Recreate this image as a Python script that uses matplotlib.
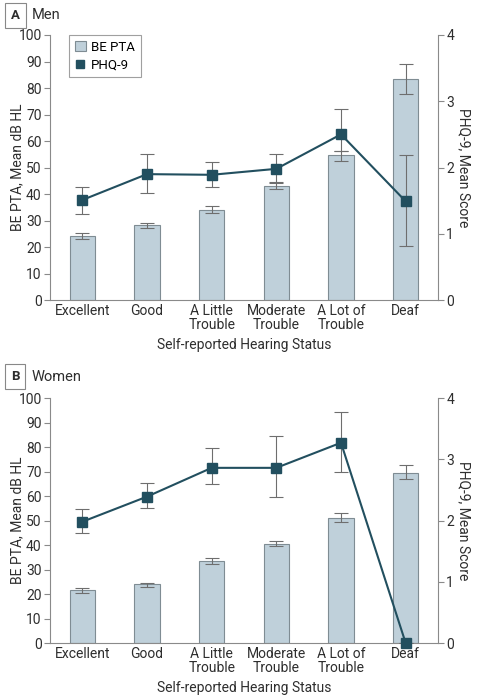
import matplotlib
matplotlib.use("Agg")
import matplotlib.pyplot as plt
from matplotlib.patches import Patch
from matplotlib.lines import Line2D
import numpy as np

plt.rcParams['font.family'] = ['Roboto', 'DejaVu Sans']

categories = ["Excellent", "Good", "A Little\nTrouble", "Moderate\nTrouble", "A Lot of\nTrouble", "Deaf"]

# Men
men_pta = [24.1, 28.2, 33.8, 42.9, 54.9, 83.3]
men_pta_lo = [22.9, 27.3, 32.9, 42.0, 52.5, 77.8]
men_pta_hi = [25.3, 29.0, 35.3, 44.4, 56.3, 88.9]
men_phq = [1.51, 1.90, 1.89, 1.98, 2.50, 1.49]
men_phq_lo = [1.30, 1.61, 1.70, 1.77, 2.25, 0.81]
men_phq_hi = [1.70, 2.20, 2.09, 2.20, 2.89, 2.19]

# Women
women_pta = [21.6, 23.9, 33.4, 40.3, 50.9, 69.6]
women_pta_lo = [20.3, 22.9, 32.2, 39.4, 49.2, 67.0]
women_pta_hi = [22.6, 24.7, 34.5, 41.5, 52.9, 72.8]
women_phq = [1.98, 2.39, 2.86, 2.86, 3.27, 0.0]
women_phq_lo = [1.79, 2.20, 2.60, 2.39, 2.79, 0.0]
women_phq_hi = [2.19, 2.61, 3.19, 3.38, 3.77, 0.0]

left_ticks = list(range(0, 101, 10))
right_ticks = [0, 1, 2, 3, 4]

BAR_FC = "#bfd0da"
BAR_EC = "#7f8c93"
LINE_C = "#224f5f"
ERR_C = "#6e6e6e"
AX_C = "#8a8a8a"
TXT_C = "#2e2e2e"
FS = 10

fig = plt.figure(figsize=(4.78, 7.0), dpi=100)


def panel(rect, pta, plo, phi, phq, qlo, qhi, letter, title, ytitle, legend):
    ax = fig.add_axes(rect)
    x = np.arange(len(categories))
    pta = np.array(pta); plo = np.array(plo); phi = np.array(phi)
    ax.bar(x, pta, width=0.39, color=BAR_FC, edgecolor=BAR_EC, linewidth=0.8, zorder=2)
    ax.errorbar(x, pta, yerr=[pta - plo, phi - pta], fmt='none', ecolor=ERR_C,
                elinewidth=0.8, capsize=5, capthick=0.8, zorder=3)
    ax.set_xlim(-0.5, len(categories) - 0.5)
    ax.set_ylim(0, 100)
    ax.set_yticks(left_ticks)
    ax.set_xticks(x)
    ax.set_xticklabels(categories, fontsize=FS, color=TXT_C, linespacing=1.0)
    ax.tick_params(axis='x', length=0, pad=3)
    ax.tick_params(axis='y', length=4, width=0.8, color=AX_C, labelsize=FS, labelcolor=TXT_C, pad=2)
    ax.spines['top'].set_visible(False)
    ax.spines['right'].set_visible(False)
    ax.spines['left'].set_color(AX_C)
    ax.spines['bottom'].set_color(AX_C)
    ax.spines['left'].set_linewidth(0.8)
    ax.spines['bottom'].set_linewidth(0.8)
    ax.set_ylabel("BE PTA, Mean dB HL", fontsize=FS, color=TXT_C)
    ax.yaxis.set_label_coords(-0.066, 0.5)
    ax.set_xlabel("Self-reported Hearing Status", fontsize=FS, color=TXT_C, labelpad=4)

    ax2 = ax.twinx()
    phq = np.array(phq); qlo = np.array(qlo); qhi = np.array(qhi)
    ax2.errorbar(x, phq, yerr=[phq - qlo, qhi - phq], fmt='none', ecolor=ERR_C,
                 elinewidth=0.8, capsize=5, capthick=0.8, zorder=3)
    ax2.plot(x, phq, color=LINE_C, linewidth=1.5, marker='s', markersize=6.5, zorder=4,
             clip_on=False)
    ax2.set_ylim(0, 4)
    ax2.set_yticks(right_ticks)
    ax2.tick_params(axis='y', length=4, width=0.8, color=AX_C, labelsize=FS, labelcolor=TXT_C, pad=2)
    for s in ['top', 'left', 'bottom']:
        ax2.spines[s].set_visible(False)
    ax2.spines['right'].set_color(AX_C)
    ax2.spines['right'].set_linewidth(0.8)
    ax2.set_ylabel("PHQ-9, Mean Score", fontsize=FS, color=TXT_C, rotation=270, labelpad=12)

    # panel title
    fig.text(0.032, ytitle, letter, fontsize=9.5, fontweight='bold', color=TXT_C, va='center', ha='center',
             bbox=dict(boxstyle='square,pad=0.45', fc='white', ec='#888888', lw=0.8))
    fig.text(0.067, ytitle, title, fontsize=10.5, color=TXT_C, va='center', ha='left')

    if legend:
        handles = [Patch(facecolor=BAR_FC, edgecolor=BAR_EC, linewidth=0.8, label="BE PTA"),
                   Line2D([], [], color=LINE_C, marker='s', linestyle='none', markersize=6, label="PHQ-9")]
        leg = ax.legend(handles=handles, loc='upper left', bbox_to_anchor=(0.049, 1.0),
                        fontsize=9.5, frameon=True, fancybox=False, edgecolor='#888888',
                        handlelength=0.8, handleheight=0.8, handletextpad=0.4,
                        borderpad=0.45, labelspacing=0.35, borderaxespad=0)
        leg.get_frame().set_linewidth(0.8)
        leg.set_zorder(10)
    return ax


panel([0.1046, 0.5714, 0.8117, 0.3786], men_pta, men_pta_lo, men_pta_hi,
      men_phq, men_phq_lo, men_phq_hi, "A", "Men", 0.978, True)
panel([0.1046, 0.0814, 0.8117, 0.35], women_pta, women_pta_lo, women_pta_hi,
      women_phq, women_phq_lo, women_phq_hi, "B", "Women", 0.4619, False)

fig.savefig("out.png", dpi=100)
